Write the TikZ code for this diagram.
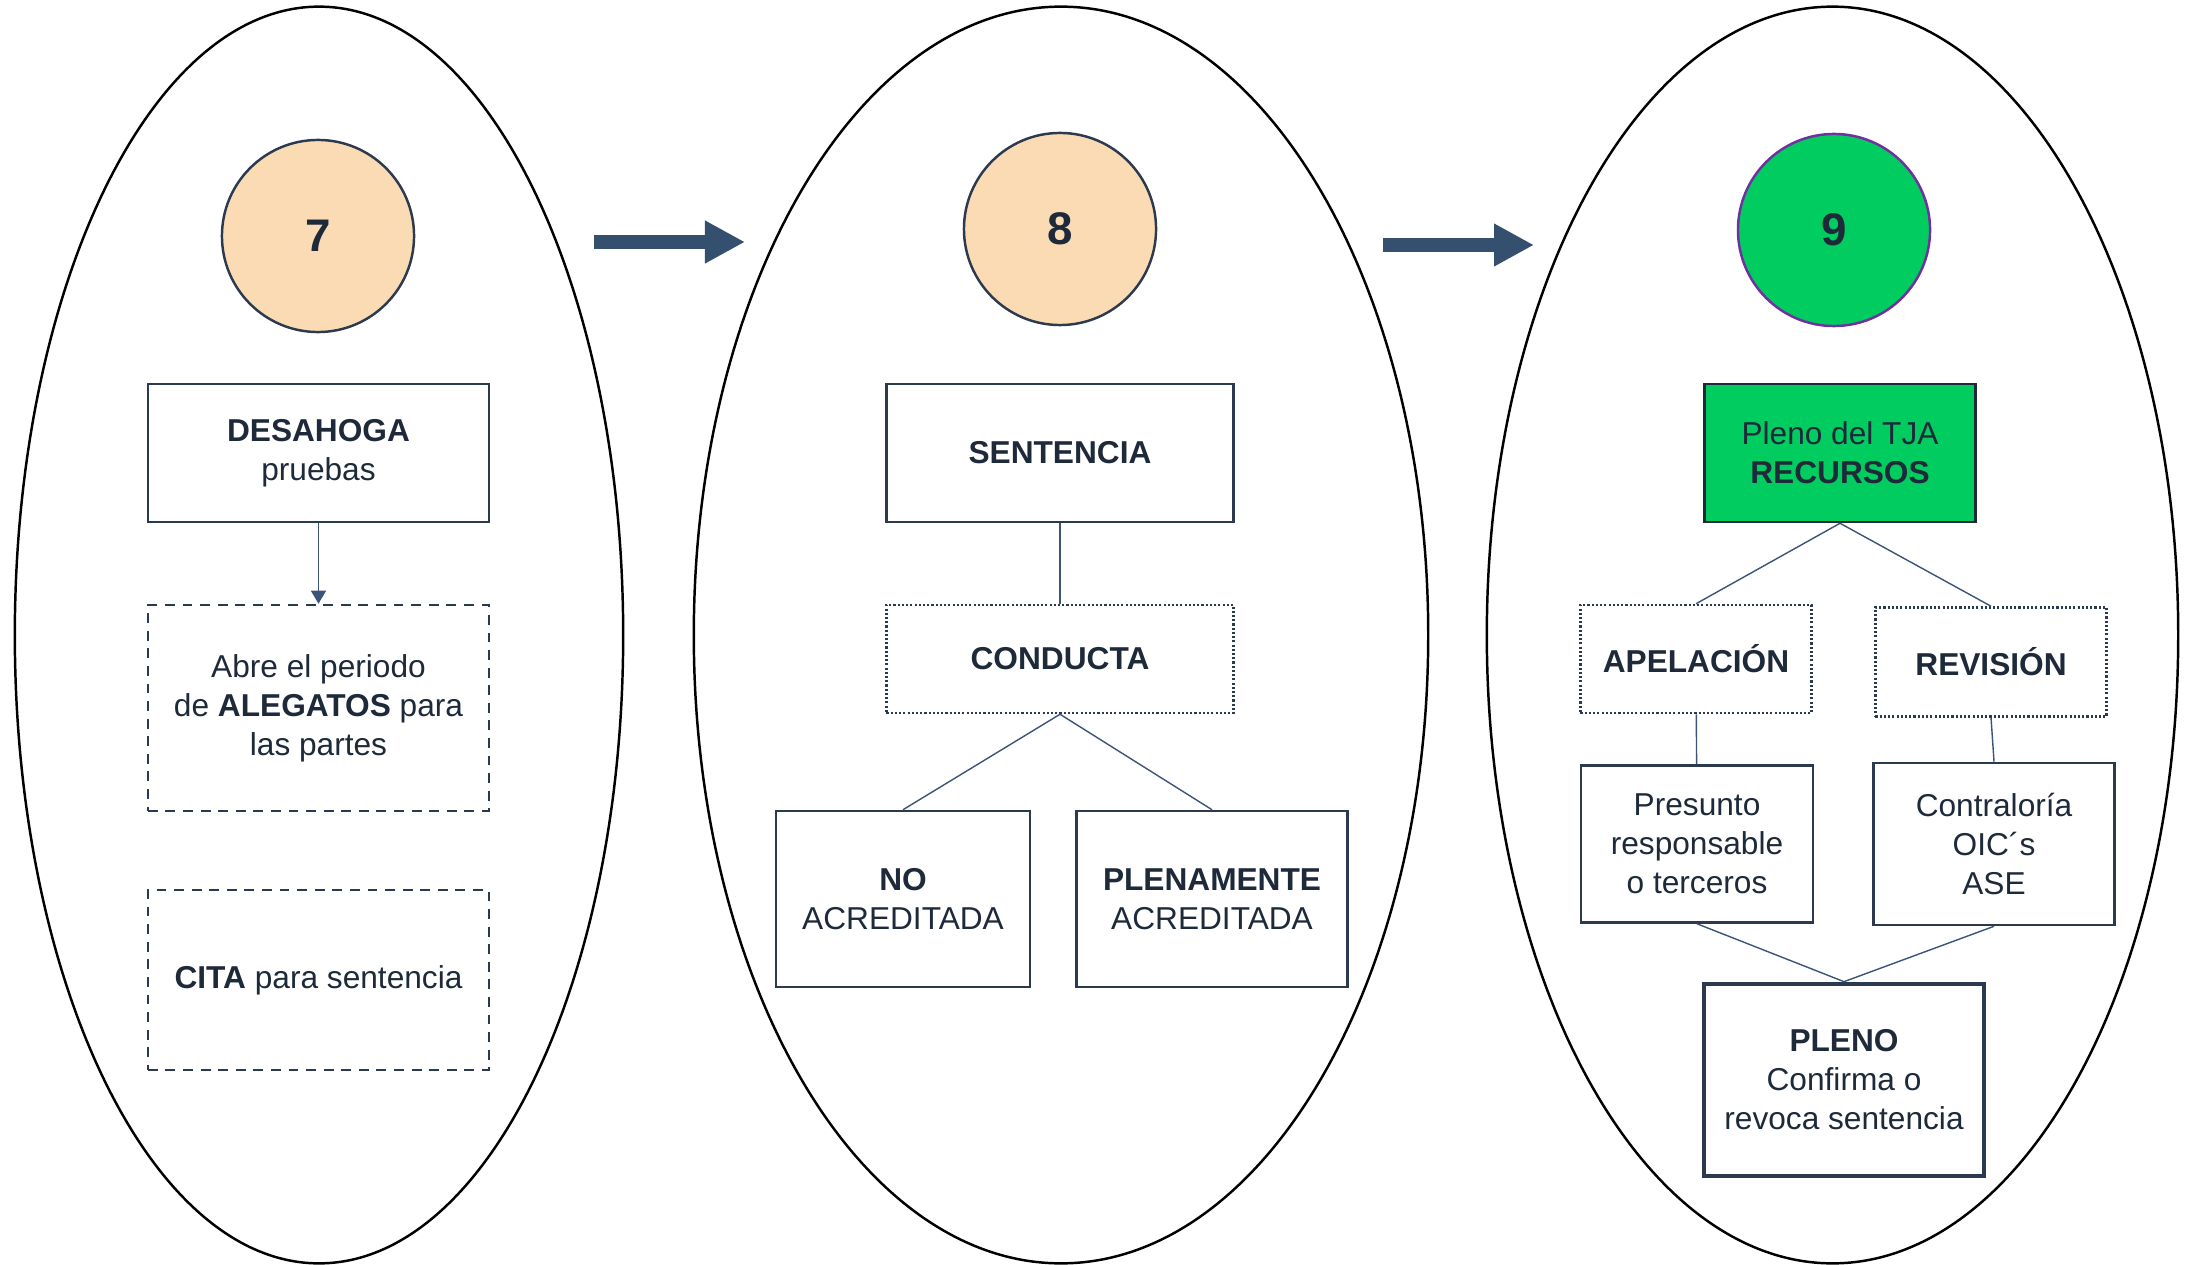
\documentclass[tikz,border=0pt]{standalone}
\usepackage{fontspec}
\setmainfont{Liberation Sans}
\usetikzlibrary{arrows.meta}

\definecolor{ink}{HTML}{1E2A3A}
\definecolor{edge}{HTML}{2B3A4E}
\definecolor{linkblue}{HTML}{3B5477}
\definecolor{arrowblue}{HTML}{35506F}
\definecolor{peach}{HTML}{FADBB4}
\definecolor{tjagreen}{HTML}{00CC5F}
\definecolor{plum}{HTML}{7030A0}

\tikzset{
  stage/.style={draw=black, line width=0.7pt},
  badge/.style={circle, draw=edge, line width=0.7pt, fill=peach, minimum size=1.92cm,
    inner sep=0pt, text=ink, font=\fontsize{13}{15}\selectfont\bfseries},
  txt/.style={align=center, text=ink, inner sep=0pt, font=\fontsize{9}{11.1}\selectfont},
  solidbox/.style={txt, rectangle, draw=edge, line width=0.7pt},
  dashbox/.style={txt, rectangle, draw=edge, line width=0.7pt, dash pattern=on 2.8pt off 2.2pt},
  dotbox/.style={txt, rectangle, draw=edge, line width=0.7pt, dash pattern=on 0.6pt off 0.6pt},
  link/.style={draw=linkblue, line width=0.4pt},
  bigarrow/.style={draw=arrowblue, line width=0.14cm, -{Triangle[length=0.4cm,width=0.4cm]}}
}

\begin{document}
\begin{tikzpicture}[x=0.01cm, y=-0.01cm]
  \useasboundingbox (0,0) rectangle (2195,1264);
  % Stages
  \draw[stage] (319,635) ellipse [x radius=3.04cm, y radius=6.28cm];
  \draw[stage] (1061,635) ellipse [x radius=3.67cm, y radius=6.28cm];
  \draw[stage] (1832.5,635) ellipse [x radius=3.455cm, y radius=6.28cm];
  % Arrows between stages
  \coordinate (go1) at (594,242);
  \coordinate (to1) at (745,242);
  \coordinate (go2) at (1383,245);
  \coordinate (to2) at (1534,245);
  \draw[bigarrow] (go1) -- (to1);
  \draw[bigarrow] (go2) -- (to2);

  % Stage 7
  \node[badge] (c7) at (318,236) {7};
  \node[solidbox, minimum width=3.41cm, minimum height=1.38cm] (desahoga) at (318.5,453)
    {\textbf{DESAHOGA}\\pruebas};
  \node[dashbox, minimum width=3.41cm, minimum height=2.06cm] (alegatos) at (318.5,708)
    {Abre el periodo\\de \textbf{ALEGATOS} para\\las partes};
  \node[dashbox, minimum width=3.41cm, minimum height=1.80cm] (cita) at (318.5,980)
    {\textbf{CITA} para sentencia};
  \draw[link, -{Triangle[length=0.13cm,width=0.15cm]}] (desahoga) -- (alegatos);

  % Stage 8
  \node[badge] (c8) at (1060,229) {8};
  \node[solidbox, minimum width=3.47cm, minimum height=1.38cm] (sentencia) at (1060,453)
    {\textbf{SENTENCIA}};
  \node[dotbox, minimum width=3.47cm, minimum height=1.08cm] (conducta) at (1060,659)
    {\textbf{CONDUCTA}};
  \node[solidbox, minimum width=2.54cm, minimum height=1.76cm] (noacred) at (903,899)
    {\textbf{NO}\\ACREDITADA};
  \node[solidbox, minimum width=2.71cm, minimum height=1.76cm] (plenamente) at (1212,899)
    {\textbf{PLENAMENTE}\\ACREDITADA};
  \draw[link] (sentencia) -- (conducta);
  \draw[link] (conducta.south) -- (noacred.north);
  \draw[link] (conducta.south) -- (plenamente.north);

  % Stage 9
  \node[badge, fill=tjagreen, draw=plum] (c9) at (1834,230) {9};
  \node[solidbox, fill=tjagreen, draw=ink, minimum width=2.71cm, minimum height=1.38cm] (recursos) at (1840,453)
    {Pleno del TJA\\\textbf{RECURSOS}};
  \node[dotbox, minimum width=2.31cm, minimum height=1.08cm] (apelacion) at (1696,659)
    {\textbf{APELACIÓN}};
  \node[dotbox, minimum width=2.31cm, minimum height=1.09cm] (revision) at (1991,662)
    {\textbf{REVISIÓN}};
  \node[solidbox, minimum width=2.32cm, minimum height=1.57cm] (presunto) at (1697,844)
    {Presunto\\responsable\\o terceros};
  \node[solidbox, minimum width=2.41cm, minimum height=1.62cm] (contraloria) at (1994,844)
    {Contraloría\\OIC´s\\ASE};
  \node[solidbox, line width=1.3pt, minimum width=2.80cm, minimum height=1.92cm] (pleno) at (1844,1080)
    {\textbf{PLENO}\\Confirma o\\revoca sentencia};
  \draw[link] (recursos.south) -- (apelacion.north);
  \draw[link] (recursos.south) -- (revision.north);
  \draw[link] (apelacion) -- (presunto);
  \draw[link] (revision.south) -- (contraloria.north);
  \draw[link] (presunto.south) -- (pleno.north);
  \draw[link] (contraloria.south) -- (pleno.north);
\end{tikzpicture}
\end{document}
